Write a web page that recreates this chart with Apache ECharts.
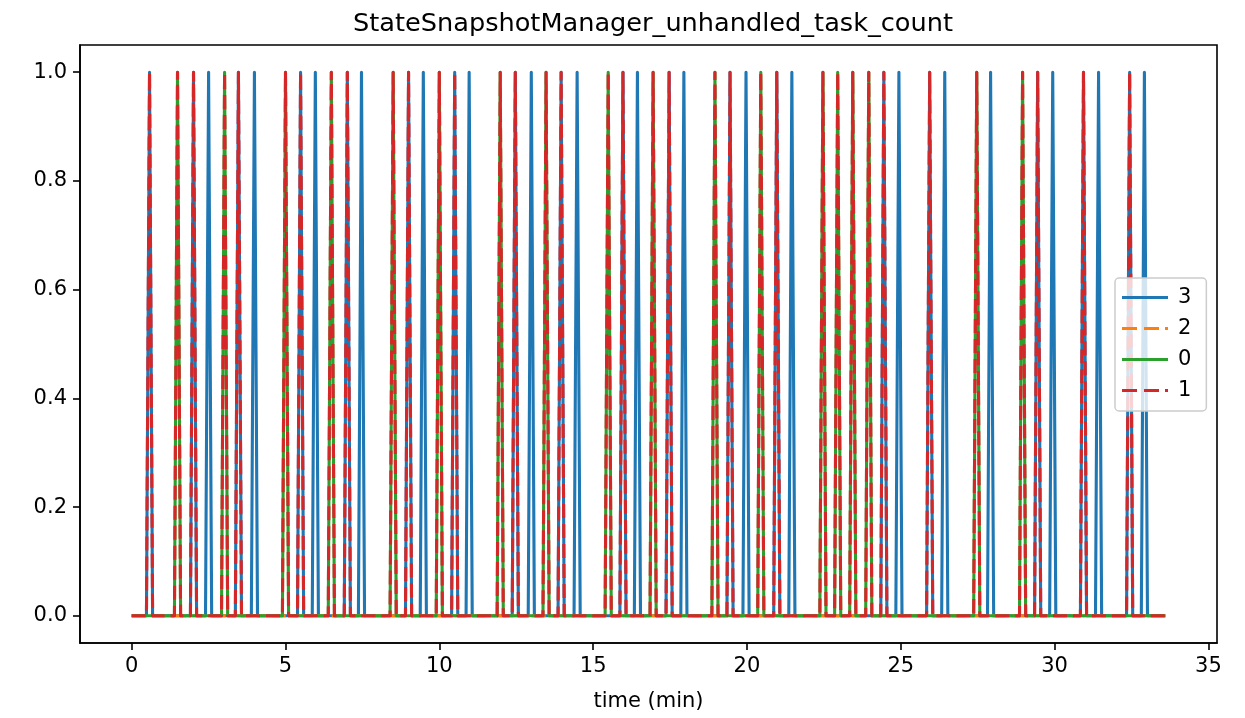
<!DOCTYPE html>
<html>
<head>
<meta charset="utf-8">
<script src="https://cdn.jsdelivr.net/npm/echarts@6/dist/echarts.min.js"></script>
<style>
html,body{margin:0;padding:0;background:#fff;}
#chart{width:1245px;height:718px;}
</style>
</head>
<body>
<div id="chart"></div>
<script>
// ---- data (times in minutes) ----
const seriesNames = ['3', '2', '0', '1'];
const startTime = 0;
const endTime = 33.6;
const sampleStep = 0.1; // sampling step around each spike (min)
const spikes3 = [0.58,2.01,2.5,3.47,3.99,5.49,5.97,7.01,7.47,9.0,9.48,10.5,10.97,12.47,12.99,13.96,14.48,15.97,16.44,17.47,17.95,19.45,19.97,20.97,21.46,24.45,24.94,25.94,26.43,27.92,29.45,29.94,30.94,31.43,32.44,32.92];
const spikes2 = [];
const spikes0 = [1.49,3.02,5.0,6.49,8.5,10.0,11.98,13.47,15.49,16.95,18.96,20.45,22.47,22.95,23.44,23.96,27.47,28.96];
const spikes1 = [0.58,1.49,2.01,3.02,3.47,5.0,5.49,6.49,7.01,8.5,9.0,10.0,10.5,11.98,12.47,13.47,13.96,15.49,15.97,16.95,17.47,18.96,19.45,20.45,20.97,22.47,22.95,23.44,23.96,24.45,25.94,27.47,28.96,29.45,30.94,32.44];
const spikeValue = 1;
const xTicks = [0,5,10,15,20,25,30,35];
const yTicks = [0,0.2,0.4,0.6,0.8,1.0];

function buildSeries(spikes) {
  const d = [[startTime, 0]];
  spikes.forEach(t => { d.push([t - sampleStep, 0], [t, spikeValue], [t + sampleStep, 0]); });
  d.push([endTime, 0]);
  return d;
}

const FONT = 'DejaVu Sans';
const LW = 3.1;
const DASH = [14, 6];
const ICON_SOLID = 'path://M0,0H46V3H0Z';
const ICON_DASH = 'path://M0,0H15V3H0Z M22,0H37V3H22Z M43,0H46V3H43Z';
const styles = {
  '3': {color: '#1f77b4', type: 'solid', icon: ICON_SOLID, spikes: spikes3},
  '2': {color: '#ff7f0e', type: DASH, icon: ICON_DASH, spikes: spikes2},
  '0': {color: '#2ca02c', type: 'solid', icon: ICON_SOLID, spikes: spikes0},
  '1': {color: '#d62728', type: DASH, icon: ICON_DASH, spikes: spikes1}
};

const chart = echarts.init(document.getElementById('chart'), null, {renderer: 'canvas'});
chart.setOption({
  animation: false,
  backgroundColor: '#fff',
  title: {
    text: 'StateSnapshotManager_unhandled_task_count',
    left: 648, textAlign: 'center', top: 6,
    textStyle: {fontFamily: FONT, fontSize: 25.6, fontWeight: 'normal', color: '#000'}
  },
  grid: {left: 80, right: 28, top: 45, bottom: 75, show: true, borderColor: '#000', borderWidth: 1.6, backgroundColor: 'transparent'},
  legend: {
    orient: 'vertical', left: 1115, top: 278,
    data: seriesNames.map(n => ({name: n, icon: styles[n].icon, itemStyle: {color: styles[n].color}})),
    itemWidth: 46, itemHeight: 3, itemGap: 10,
    padding: [9, 15, 10, 7],
    backgroundColor: 'rgba(255,255,255,0.8)',
    borderColor: '#cccccc', borderWidth: 1.5, borderRadius: 4,
    textStyle: {fontFamily: FONT, fontSize: 21, color: '#000', padding: [0, 0, 0, 5]}
  },
  xAxis: {
    type: 'value', min: -1.68, max: 35.28,
    name: 'time (min)', nameLocation: 'middle', nameGap: 48,
    nameTextStyle: {fontFamily: FONT, fontSize: 21, color: '#000'},
    axisLine: {show: true, onZero: false, lineStyle: {color: '#000', width: 1.6}},
    axisTick: {show: true, length: 7, lineStyle: {color: '#000', width: 1.6}, customValues: xTicks},
    axisLabel: {fontFamily: FONT, fontSize: 21, color: '#000', margin: 13, customValues: xTicks, formatter: v => String(v)},
    splitLine: {show: false}
  },
  yAxis: {
    type: 'value', min: -0.05, max: 1.05,
    axisLine: {show: true, onZero: false, lineStyle: {color: '#000', width: 1.6}},
    axisTick: {show: true, length: 7, lineStyle: {color: '#000', width: 1.6}, customValues: yTicks},
    axisLabel: {fontFamily: FONT, fontSize: 21, color: '#000', margin: 13, customValues: yTicks, formatter: v => v.toFixed(1)},
    splitLine: {show: false}
  },
  series: seriesNames.map(n => ({
    name: n, type: 'line', symbol: 'none', showSymbol: false,
    data: buildSeries(styles[n].spikes),
    color: styles[n].color,
    lineStyle: {color: styles[n].color, width: LW, type: styles[n].type, join: 'round'},
    emphasis: {disabled: true}
  }))
});
</script>
</body>
</html>
